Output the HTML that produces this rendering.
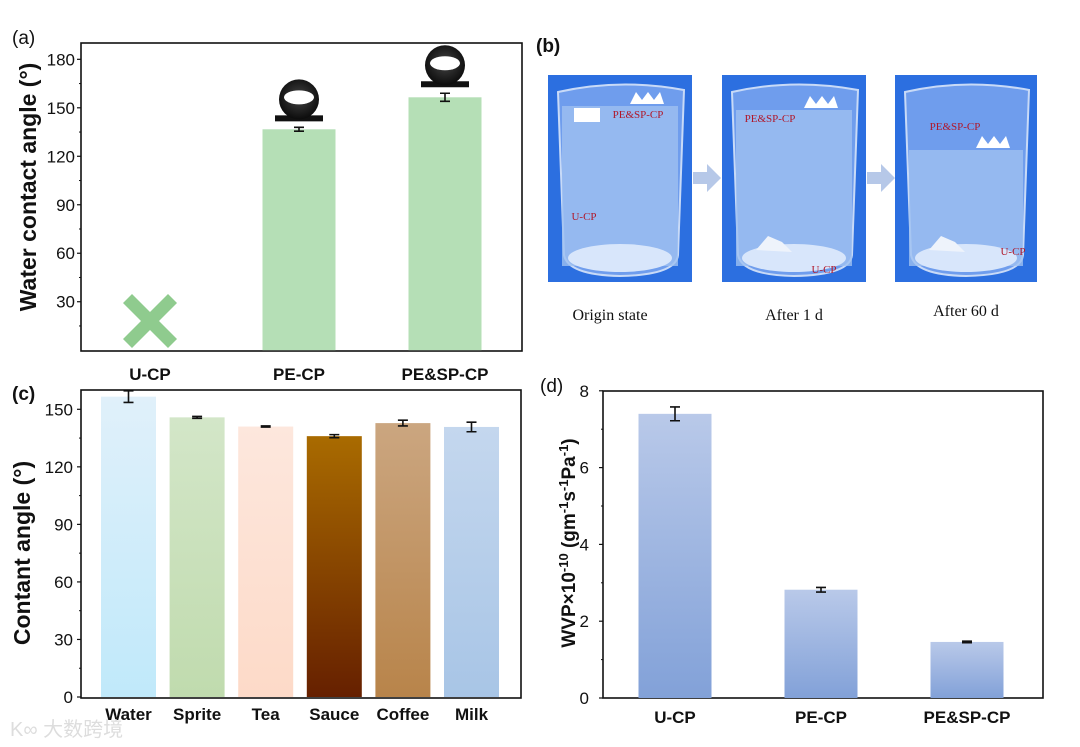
<!DOCTYPE html>
<html><head><meta charset="utf-8"><style>
html,body{margin:0;padding:0;background:#fff;}
svg{display:block;font-family:"Liberation Sans",Arial,sans-serif;}
</style></head><body>
<svg id="fig" width="1080" height="747" viewBox="0 0 1080 747" xmlns="http://www.w3.org/2000/svg">
<defs>
<linearGradient id="gw" x1="0" y1="0" x2="0" y2="1"><stop offset="0" stop-color="#e0f0fa"/><stop offset="1" stop-color="#c0e9fa"/></linearGradient>
<linearGradient id="gs" x1="0" y1="0" x2="0" y2="1"><stop offset="0" stop-color="#d3e6c8"/><stop offset="1" stop-color="#c0dbae"/></linearGradient>
<linearGradient id="gt" x1="0" y1="0" x2="0" y2="1"><stop offset="0" stop-color="#fde7dd"/><stop offset="1" stop-color="#fddac8"/></linearGradient>
<linearGradient id="gsa" x1="0" y1="0" x2="0" y2="1"><stop offset="0" stop-color="#a96b00"/><stop offset="1" stop-color="#662000"/></linearGradient>
<linearGradient id="gc" x1="0" y1="0" x2="0" y2="1"><stop offset="0" stop-color="#cba680"/><stop offset="1" stop-color="#b8844a"/></linearGradient>
<linearGradient id="gm" x1="0" y1="0" x2="0" y2="1"><stop offset="0" stop-color="#c4d7ee"/><stop offset="1" stop-color="#a8c5e6"/></linearGradient>
<linearGradient id="gd" x1="0" y1="0" x2="0" y2="1"><stop offset="0" stop-color="#b9c9e9"/><stop offset="1" stop-color="#82a1d8"/></linearGradient>
<radialGradient id="drop" cx="0.5" cy="0.45" r="0.55"><stop offset="0" stop-color="#444"/><stop offset="1" stop-color="#0c0c0c"/></radialGradient>
</defs>
<g id="pa"></g>
<g id="pb"></g>
<g id="pc"></g>
<g id="pd"></g>
<text x="10" y="736" font-size="20" fill="#ddd" font-family="'Liberation Sans','Noto Sans CJK SC',sans-serif">K∞ 大数跨境</text>
</svg>
<script>
const aCats=["U-CP","PE-CP","PE&SP-CP"];
const aVals=[null,136.7,156.5];
const aErr=[0,1.2,2.5];
const aTicks=[30,60,90,120,150,180];
const cCats=["Water","Sprite","Tea","Sauce","Coffee","Milk"];
const cVals=[156.6,145.8,141,136,142.8,140.8];
const cErr=[3,0.5,0.3,0.8,1.5,2.5];
const cTicks=[0,30,60,90,120,150];
const dCats=["U-CP","PE-CP","PE&SP-CP"];
const dVals=[7.4,2.82,1.46];
const dErr=[0.18,0.06,0.02];
const dTicks=[0,2,4,6,8];

const NS="http://www.w3.org/2000/svg";
function mk(parent,tag,attrs,txt){const e=document.createElementNS(NS,tag);for(const k in attrs)e.setAttribute(k,attrs[k]);if(txt!==undefined)e.textContent=txt;parent.appendChild(e);return e;}

function errBar(g,x,y1,y2,w){
  const e=mk(g,'path',{d:`M${x-w} ${y1}H${x+w}M${x} ${y1}V${y2}M${x-w} ${y2}H${x+w}`,stroke:'#111','stroke-width':1.6,fill:'none'});
  
  
}

// ---- Panel A ----
(function(){
  const g=document.getElementById('pa');
  const L=81,R=522,T=43,B=351;
  const y=v=>350.2-v*1.616;
  const cx=[150,299,445], bw=73;
  mk(g,'rect',{x:L,y:T,width:R-L,height:B-T,fill:'none',stroke:'#111','stroke-width':1.6});
  aTicks.forEach(t=>{const yy=y(t);
    const tk=mk(g,'line',{x1:L-4,x2:L,y1:yy,y2:yy,stroke:'#111','stroke-width':1.2});
    
    mk(g,'line',{x1:L-2,x2:L,y1:y(t-15),y2:y(t-15),stroke:'#111','stroke-width':1});
    const tl=mk(g,'text',{x:L-6,y:yy+6,'font-size':17,'text-anchor':'end',fill:'#111'},t);
    });
  aCats.forEach((c,i)=>{
    if(aVals[i]!==null){
      const r=mk(g,'rect',{x:cx[i]-bw/2,y:y(aVals[i]),width:bw,height:y(0)-y(aVals[i]),fill:'#b5dfb6'});
      
      
      errBar(g,cx[i],y(aVals[i]+aErr[i]),y(aVals[i]-aErr[i]),5);
      // droplet
      const top=y(aVals[i]+aErr[i])-6;
      const d=mk(g,'g',{});
      
      mk(d,'rect',{x:cx[i]-24,y:top-6,width:48,height:6,fill:'#111'});
      mk(d,'circle',{cx:cx[i],cy:top-22,r:20,fill:'url(#drop)'});
      mk(d,'ellipse',{cx:cx[i],cy:top-24,rx:15,ry:7,fill:'#fff'});
    }
    const tl=mk(g,'text',{x:cx[i],y:380,'font-size':17,'font-weight':'bold','text-anchor':'middle',fill:'#111'},c);
    
  });
  const x=mk(g,'path',{d:'M132 294L150 312L168 294L177 303L159 321L177 339L168 348L150 330L132 348L123 339L141 321L123 303Z',fill:'#8fcb8e'});
  
  const yt=mk(g,'text',{x:0,y:0,'font-size':23,'font-weight':'bold','text-anchor':'middle',fill:'#111',transform:'translate(36,187) rotate(-90)'},'Water contact angle (°)');
  
  const pl=mk(g,'text',{x:12,y:44,'font-size':19,fill:'#111'},'(a)');
  
})();

// ---- Panel B ----
(function(){
  const g=document.getElementById('pb');
  const pl=mk(g,'text',{x:536,y:52,'font-size':19,'font-weight':'bold',fill:'#111'},'(b)');
  
  const photos=[[548,144,"Origin state",106,323],[722,144,"After 1 d",110,238],[895,142,"After 60 d",150,260]];
  const caps=[320,320,316];
  photos.forEach((p,i)=>{
    const [x0,w,cap,wl]=p;
    const ph=mk(g,'g',{});
    
    mk(ph,'rect',{x:x0,y:75,width:w,height:207,fill:'#2c6fe0'});
    mk(ph,'path',{d:`M${x0+10} 92Q${x0+w/2} 78 ${x0+w-8} 90L${x0+w-14} 255Q${x0+w-16} 275 ${x0+w/2} 276Q${x0+20} 275 ${x0+16} 255Z`,fill:'#6f9ded',stroke:'#c8daf7','stroke-width':2});
    mk(ph,'rect',{x:x0+14,y:wl,width:w-28,height:266-wl,fill:'#9fc0f0',opacity:0.8});
    mk(ph,'ellipse',{cx:x0+w/2,cy:258,rx:w/2-20,ry:14,fill:'#d8e6fb'});
    mk(ph,'path',{d:`M${x0+w/2+10} ${wl-2}l6-12 6 8 6-8 6 8 6-8 4 12z`,fill:'#fff'});
    if(i===0) mk(ph,'rect',{x:x0+26,y:wl+2,width:26,height:14,fill:'#fff'});
    else mk(ph,'path',{d:`M${x0+34} 250l12-14 14 6 10 10z`,fill:'#eef3fb'});
    mk(ph,'text',{x:x0+(i===0?90:i===1?48:60),y:i===0?118:i===1?122:130,'font-size':11,'font-family':'Liberation Serif,serif',fill:'#b0182a','text-anchor':'middle'},'PE&SP-CP');
    mk(ph,'text',{x:x0+(i===0?36:i===1?102:118),y:i===0?220:i===1?273:255,'font-size':11,'font-family':'Liberation Serif,serif',fill:'#b0182a','text-anchor':'middle'},'U-CP');
    const t=mk(g,'text',{x:x0+w/2-(i===0?10:0),y:caps[i],'font-size':16,'font-family':'Liberation Serif,serif','text-anchor':'middle',fill:'#111'},cap);
    
  });
  [693,867].forEach(x=>{const a=mk(g,'path',{d:`M${x} 172h14v-8l14 14-14 14v-8h-14z`,fill:'#b6c8e8'});
    });
})();

// ---- Panel C ----
(function(){
  const g=document.getElementById('pc');
  const L=81,R=521,T=390,B=698;
  const y=v=>697-v*1.918;
  const fills=['url(#gw)','url(#gs)','url(#gt)','url(#gsa)','url(#gc)','url(#gm)'];
  const x0=101,pitch=68.6,bw=55;
  mk(g,'rect',{x:L,y:T,width:R-L,height:B-T,fill:'none',stroke:'#111','stroke-width':1.6});
  cTicks.forEach(t=>{const yy=y(t);
    const tk=mk(g,'line',{x1:L-4,x2:L,y1:yy,y2:yy,stroke:'#111','stroke-width':1.2});
    
    if(t>0)mk(g,'line',{x1:L-2,x2:L,y1:y(t-15),y2:y(t-15),stroke:'#111','stroke-width':1});
    const tl=mk(g,'text',{x:L-8,y:yy+6,'font-size':17,'text-anchor':'end',fill:'#111'},t);
    });
  cCats.forEach((c,i)=>{
    const bx=x0+i*pitch;
    const r=mk(g,'rect',{x:bx,y:y(cVals[i]),width:bw,height:y(0)-y(cVals[i]),fill:fills[i]});
    
    
    errBar(g,bx+bw/2,y(cVals[i]+cErr[i]),y(cVals[i]-cErr[i]),5);
    const tl=mk(g,'text',{x:bx+bw/2,y:720,'font-size':17,'font-weight':'bold','text-anchor':'middle',fill:'#111'},c);
    
  });
  const yt=mk(g,'text',{x:0,y:0,'font-size':23,'font-weight':'bold','text-anchor':'middle',fill:'#111',transform:'translate(30,553) rotate(-90)'},'Contant angle (°)');
  
  const pl=mk(g,'text',{x:12,y:400,'font-size':19,'font-weight':'bold',fill:'#111'},'(c)');
  
})();

// ---- Panel D ----
(function(){
  const g=document.getElementById('pd');
  const L=603,R=1043,T=391,B=698;
  const y=v=>698-v*38.4;
  const cx=[675,821,967], bw=73;
  mk(g,'rect',{x:L,y:T,width:R-L,height:B-T,fill:'none',stroke:'#111','stroke-width':1.6});
  dTicks.forEach(t=>{const yy=y(t);
    const tk=mk(g,'line',{x1:L-4,x2:L,y1:yy,y2:yy,stroke:'#111','stroke-width':1.2});
    
    if(t>0)mk(g,'line',{x1:L-2,x2:L,y1:y(t-1),y2:y(t-1),stroke:'#111','stroke-width':1});
    const tl=mk(g,'text',{x:L-14,y:yy+6,'font-size':17,'text-anchor':'end',fill:'#111'},t);
    });
  dCats.forEach((c,i)=>{
    const r=mk(g,'rect',{x:cx[i]-bw/2,y:y(dVals[i]),width:bw,height:y(0)-y(dVals[i]),fill:'url(#gd)'});
    
    
    errBar(g,cx[i],y(dVals[i]+dErr[i]),y(dVals[i]-dErr[i]),5);
    const tl=mk(g,'text',{x:cx[i],y:723,'font-size':17,'font-weight':'bold','text-anchor':'middle',fill:'#111'},c);
    
  });
  const yt=mk(g,'text',{x:0,y:0,'font-size':19,'font-weight':'bold','text-anchor':'middle',fill:'#111',transform:'translate(575,543) rotate(-90)'});
  
  yt.innerHTML='WVP×10<tspan dy="-7" font-size="13">-10</tspan><tspan dy="7"> (gm</tspan><tspan dy="-7" font-size="13">-1</tspan><tspan dy="7">s</tspan><tspan dy="-7" font-size="13">-1</tspan><tspan dy="7">Pa</tspan><tspan dy="-7" font-size="13">-1</tspan><tspan dy="7">)</tspan>';
  const pl=mk(g,'text',{x:540,y:392,'font-size':19,fill:'#111'},'(d)');
  
})();
</script>
</body></html>
